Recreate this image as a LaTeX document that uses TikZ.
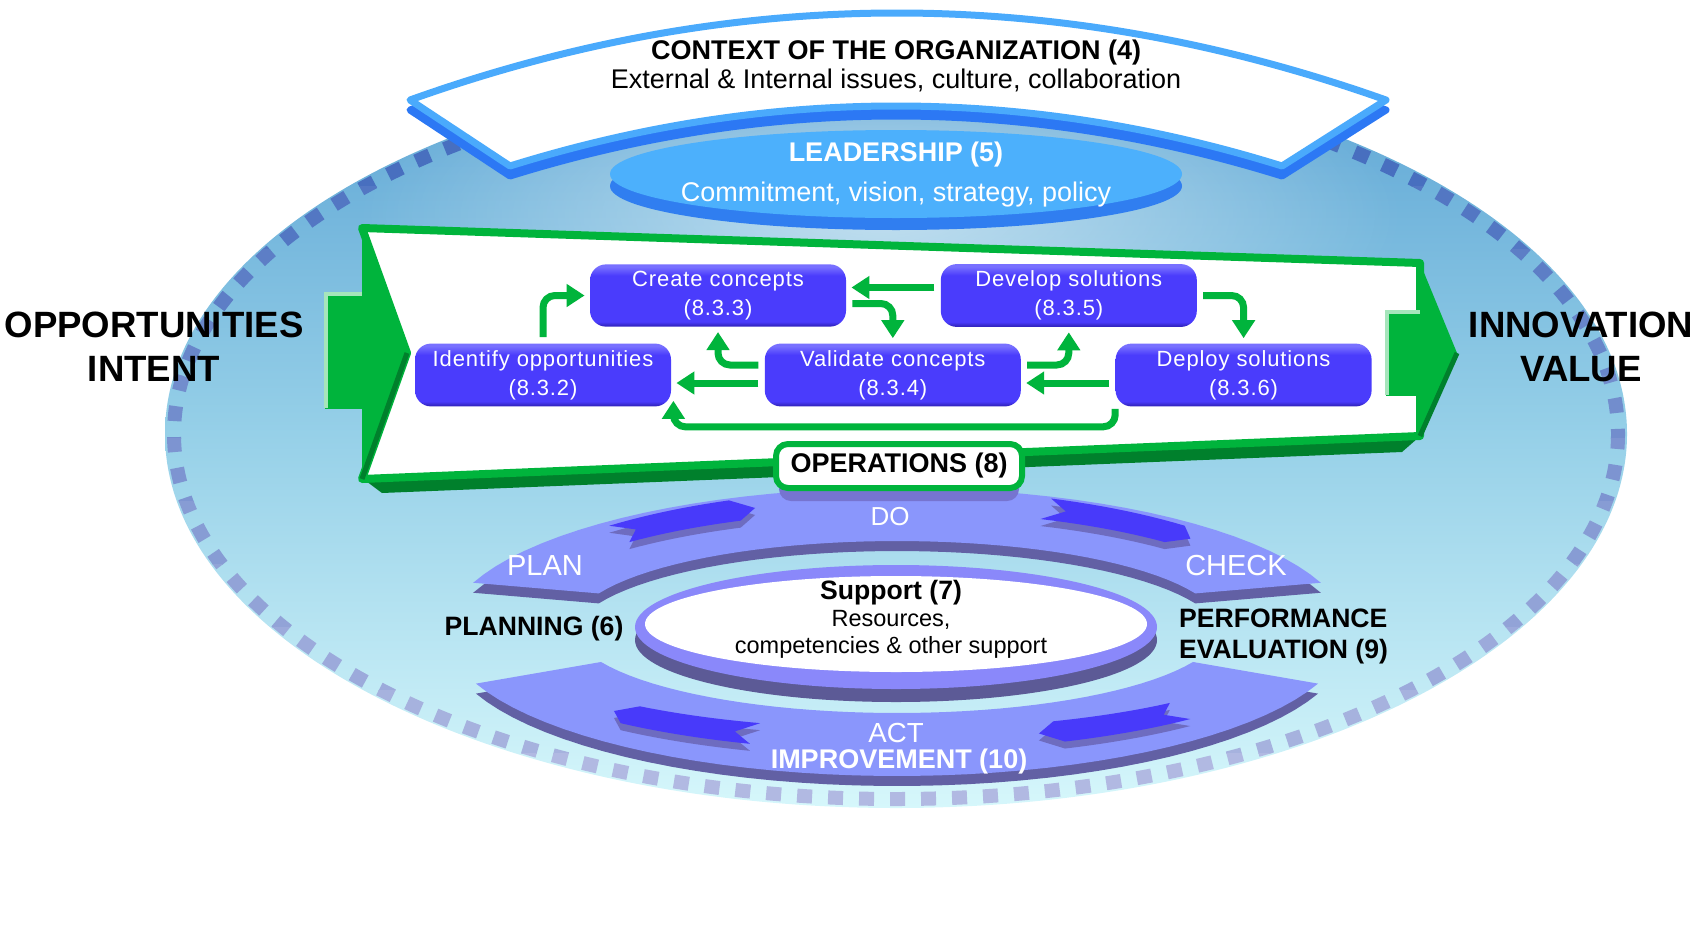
\documentclass[tikz,border=0pt]{standalone}
\usepackage{fontspec}
\setmainfont{Liberation Sans}
\newfontfamily\boxfont[LetterSpace=4]{Liberation Sans}
\usetikzlibrary{positioning, calc, arrows.meta, shapes.geometric, fadings}

\definecolor{elltop}{RGB}{92,164,212}
\definecolor{ellmid}{RGB}{150,208,232}
\definecolor{ellbot}{RGB}{214,247,251}
\definecolor{dashtop}{RGB}{62,104,188}
\definecolor{dashbot}{RGB}{178,186,226}
\definecolor{ctxrim}{RGB}{74,170,252}
\definecolor{ctxside}{RGB}{44,120,244}
\definecolor{leadblue}{RGB}{76,176,252}
\definecolor{leadside}{RGB}{48,126,240}
\definecolor{opgreen}{RGB}{0,180,60}
\definecolor{opdark}{RGB}{0,128,44}
\definecolor{procblue}{RGB}{74,60,252}
\definecolor{prochi}{RGB}{120,112,255}
\definecolor{procedge}{RGB}{52,38,196}
\definecolor{ringface}{RGB}{138,150,252}
\definecolor{ringside}{RGB}{98,96,164}
\definecolor{ringshadow}{RGB}{118,116,208}
\definecolor{cycleblue}{RGB}{72,58,250}
\definecolor{cycleshade}{RGB}{110,108,192}
\definecolor{suprim}{RGB}{138,136,250}
\definecolor{supside}{RGB}{92,90,150}

\pgfdeclareverticalshading{procshade}{100bp}{color(0bp)=(procedge); color(26bp)=(procedge); color(29bp)=(procblue); color(66bp)=(procblue); color(73bp)=(prochi); color(100bp)=(prochi)}
\tikzfading[name=glowfade, inner color=transparent!45, outer color=transparent!100]

% Pfeil auf dem Ring: Ende, Spitze, Radius y, Versatz, Farbe
\newcommand{\cyclearrow}[5]{%
    \pgfmathsetmacro\chs{(#2>#1)?3:-3}%
    \pgfmathsetmacro\hbase{#2-\chs}%
    \pgfmathsetmacro\tnotch{#1+\chs}%
    \fill[#5] plot[domain=#1:\hbase, samples=12] ({897+430*cos(\x)},{632+#4-(#3+11)*sin(\x)})
        -- ({897+415*cos(#2)},{632+#4-#3*sin(#2)})
        -- plot[domain=\hbase:#1, samples=12] ({897+400*cos(\x)},{632+#4-(#3-11)*sin(\x)})
        -- ({897+415*cos(\tnotch)},{632+#4-#3*sin(\tnotch)}) -- cycle;}

\begin{document}
\begin{tikzpicture}[
        x=0.5pt, y=-0.5pt,
        process/.style={rectangle, rounded corners=8pt, minimum width=128pt, minimum height=27.5pt, shade, shading=procshade, text=white, align=center, font=\boxfont\fontsize{11}{14.5}\selectfont},
        flow/.style={draw=opgreen, line width=3.5pt, rounded corners=6pt, shorten <=3pt, shorten >=2.5pt, -{Triangle[width=11pt, length=9pt]}},
        rimdash/.style={line width=7pt, dash pattern=on 7.5pt off 8pt},
        sidetext/.style={align=center, font=\fontsize{18.3}{22}\selectfont\bfseries},
        headtext/.style={align=center, font=\fontsize{13.5}{14.5}\selectfont},
        leadtext/.style={align=center, text=white, font=\fontsize{13.5}{20}\selectfont},
        opslabel/.style={draw=opgreen, line width=3pt, fill=white, rounded corners=6pt, minimum width=123pt, minimum height=22pt, font=\fontsize{13.5}{16}\selectfont\bfseries},
        cyclelabel/.style={text=white, font=\fontsize{14.5}{16}\selectfont},
        clauselabel/.style={align=left, font=\fontsize{13.3}{15.5}\selectfont\bfseries},
        supporttext/.style={align=center, font=\fontsize{11.75}{13.5}\selectfont}
    ]

    % Hintergrund
    \useasboundingbox (0,0) rectangle (1700,926);
    \shade[top color=elltop, bottom color=ellbot, middle color=ellmid] (896,434) ellipse [x radius=731, y radius=374];
    \fill[white, path fading=glowfade] (880,215) ellipse [x radius=520, y radius=190];
    \foreach \i in {0,...,11} {
        \pgfmathtruncatemacro\mix{100-9*\i}
        \begin{scope}
            \clip (0,{60+63*\i}) rectangle (1700,{123+63*\i});
            \draw[rimdash, draw=dashtop!\mix!dashbot] (896,434) ellipse [x radius=722, y radius=365];
        \end{scope}
    }

    % Kontext
    \begin{scope}[shift={(0,10)}]
        \draw[ctxside, fill=ctxside, line width=3.5pt, line join=round] (410,100) .. controls (734,-16) and (1059,-16) .. (1386,100) -- (1282,166) .. controls (1025,86) and (767,86) .. (510,166) -- cycle;
    \end{scope}
    \draw[ctxrim, fill=white, line width=3.5pt, line join=round] (410,100) .. controls (734,-16) and (1059,-16) .. (1386,100) -- (1282,166) .. controls (1025,86) and (767,86) .. (510,166) -- cycle;
    \node[headtext] (context) at (896,66) {\textbf{CONTEXT OF THE ORGANIZATION (4)}\\External \& Internal issues, culture, collaboration};

    % Fuehrung
    \fill[leadside] (896,186) ellipse [x radius=286, y radius=44];
    \fill[leadblue] (896,174) ellipse [x radius=286, y radius=44];
    \node[leadtext] (leader) at (896,175) {\textbf{LEADERSHIP (5)}\\Commitment, vision, strategy, policy};

    % Rahmen
    \fill[opdark] (366,481) -- (1418,438) -- (1402,452) -- (382,493) -- cycle;
    \draw[opgreen, fill=white, line width=4pt, line join=round] (362,228) -- (1420,263) -- (1420,436) -- (362,479) -- (407,353) -- cycle;
    \fill[opgreen] (362,228) -- (407,353) -- (362,479) -- cycle;
    \draw[opdark, line width=2.5pt] (407,353) -- (362,479);
    \fill[opgreen] (325,293) rectangle (364,409);
    \draw[opgreen!35!white, line width=2pt] (326,408) -- (326,294) -- (362,294);
    \fill[opgreen] (1420,263) -- (1457,353) -- (1420,436) -- cycle;
    \draw[opdark, line width=2.5pt] (1457,353) -- (1420,436);
    \fill[opgreen] (1386,311) rectangle (1421,396);
    \draw[opgreen!35!white, line width=2pt] (1387,395) -- (1387,312) -- (1420,312);

    % Prozesse
    \node[process] (identify) at (543,375) {Identify opportunities\\(8.3.2)};
    \node[process, right=46.5pt of identify] (validate) {Validate concepts\\(8.3.4)};
    \node[process, right=47pt of validate] (deploy) {Deploy solutions\\(8.3.6)};
    \node[process] (create) at (718,295.5) {Create concepts\\(8.3.3)};
    \node[process, right=47pt of create] (develop) {Develop solutions\\(8.3.5)};

    % Pfeile
    \draw[flow] (identify.north) |- (create.west);
    \draw[flow] ($(create.east)+(0,8)$) -| (validate.north);
    \draw[flow] ($(develop.west)+(0,-8)$) -- ($(create.east)+(0,-8)$);
    \draw[flow] ($(validate.west)+(0,-10)$) -| (create.south);
    \draw[flow] ($(validate.west)+(0,8)$) -- ($(identify.east)+(0,8)$);
    \draw[flow] ($(validate.east)+(0,-10)$) -| (develop.south);
    \draw[flow] ($(deploy.west)+(0,8)$) -- ($(validate.east)+(0,8)$);
    \draw[flow] (develop.east) -| (deploy.north);
    \draw[flow, shorten <=0pt] ($(deploy.south west)+(0,2)$) -- ++(0,18) -| ($(identify.south east)+(2,-11)$);

    % Zyklus
    \fill[ringside] plot[domain=160:20, samples=40] ({897+451*cos(\x)},{642-144*sin(\x)}) -- plot[domain=23:157, samples=40] ({897+324*cos(\x)},{637-86*sin(\x)}) -- cycle;
    \fill[ringface] plot[domain=160:20, samples=40] ({897+451*cos(\x)},{632-144*sin(\x)}) -- plot[domain=23:157, samples=40] ({897+324*cos(\x)},{627-86*sin(\x)}) -- cycle;
    \fill[ringside] plot[domain=201:339, samples=40] ({897+451*cos(\x)},{642-144*sin(\x)}) -- plot[domain=336:204, samples=40] ({897+324*cos(\x)},{637-86*sin(\x)}) -- cycle;
    \fill[ringface] plot[domain=201:339, samples=40] ({897+451*cos(\x)},{632-144*sin(\x)}) -- plot[domain=336:204, samples=40] ({897+324*cos(\x)},{627-86*sin(\x)}) -- cycle;

    \cyclearrow{132}{110}{132}{7}{cycleshade}
    \cyclearrow{132}{110}{132}{0}{cycleblue}
    \cyclearrow{69}{45}{132}{7}{cycleshade}
    \cyclearrow{69}{45}{132}{0}{cycleblue}
    \cyclearrow{313}{290}{108}{7}{cycleshade}
    \cyclearrow{313}{290}{108}{0}{cycleblue}
    \cyclearrow{250}{227}{108}{7}{cycleshade}
    \cyclearrow{250}{227}{108}{0}{cycleblue}

    % Unterstuetzung
    \fill[supside] (896,640) ellipse [x radius=261, y radius=62];
    \fill[suprim] (896,627) ellipse [x radius=261, y radius=62];
    \fill[white] (896,624) ellipse [x radius=251, y radius=48];
    \node[supporttext] (support) at (891,619) {{\fontsize{13.3}{13.5}\selectfont\bfseries Support (7)}\\Resources,\\competencies \& other support};

    % Betrieb
    \fill[ringshadow, rounded corners=6pt] (779,470) rectangle (1019,501);
    \node[opslabel] (operations) at (899,466) {OPERATIONS (8)};

    % Beschriftung
    \node[sidetext] (intent) at (154,347) {OPPORTUNITIES\\INTENT};
    \node[sidetext] (value) at (1581,347) {INNOVATION\\VALUE};
    \node[cyclelabel] (plan) at (545,566) {PLAN};
    \node[cyclelabel] (check) at (1236,566) {CHECK};
    \node[cyclelabel, font=\fontsize{13}{16}\selectfont] (dolabel) at (890,517) {DO};
    \node[cyclelabel, font=\fontsize{13.8}{16}\selectfont] (act) at (896,733) {ACT};
    \node[cyclelabel, font=\fontsize{13.5}{16}\selectfont\bfseries] (improvement) at (899,762) {IMPROVEMENT (10)};
    \node[clauselabel] (planning) at (534,629) {PLANNING (6)};
    \node[clauselabel, anchor=west] (evaluation) at (1172,636) {PERFORMANCE\\EVALUATION (9)};

\end{tikzpicture}
\end{document}
